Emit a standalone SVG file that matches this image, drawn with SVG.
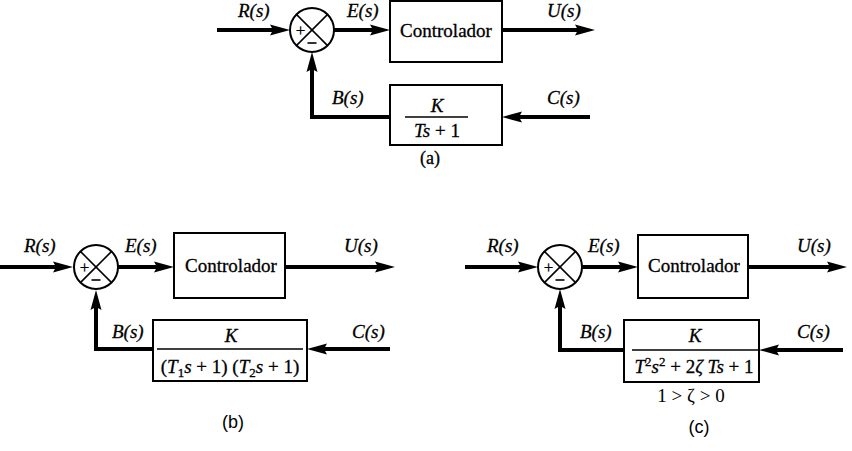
<svg xmlns="http://www.w3.org/2000/svg" width="852" height="451" viewBox="0 0 852 451">
  <defs>
    <style>
      .sig { fill: none; stroke: #000; stroke-width: 4; stroke-linejoin: miter; marker-end: url(#head); }
      .box { fill: #fff; stroke: #000; stroke-width: 2; }
      .sum { fill: #fff; stroke: #000; stroke-width: 2; }
      .xl { stroke: #000; stroke-width: 1.6; }
      .bar { stroke: #000; stroke-width: 1.4; }
      text { stroke: #000; stroke-width: 0.3; }
      .lbl { font-family: "Liberation Serif", "Times New Roman", serif; font-style: italic; font-size: 19px; fill: #000; }
      .rm { font-family: "Liberation Serif", "Times New Roman", serif; font-size: 19px; fill: #000; }
      .mid { text-anchor: middle; }
      .sgn { font-family: "Liberation Serif", "Times New Roman", serif; font-size: 17px; fill: #000; text-anchor: middle; }
      .cap { font-family: "Liberation Sans", Arial, sans-serif; font-size: 18px; fill: #000; text-anchor: middle; stroke-width: 0; }
      .it { font-style: italic; }
      .sub { font-size: 13px; }
    </style>
    <!-- slim filled arrowhead; the line stops 16px short of the tip -->
    <marker id="head" markerUnits="userSpaceOnUse" viewBox="0 -6 22 12" refX="4" refY="0" markerWidth="22" markerHeight="12" orient="auto">
      <path d="M0,-5.5 L20,0 L0,5.5 L3,0 Z" fill="#000"/>
    </marker>
    <!-- summing junction: circle with a cross, + on the left, - at the bottom -->
    <g id="sumjunction">
      <circle class="sum" cx="0" cy="0" r="22"/>
      <line class="xl" x1="-15.6" y1="-15.6" x2="15.6" y2="15.6"/>
      <line class="xl" x1="-15.6" y1="15.6" x2="15.6" y2="-15.6"/>
      <text class="sgn" x="-11.5" y="5.5">+</text>
      <line stroke="#000" stroke-width="1.6" x1="-4.5" y1="13" x2="4.5" y2="13"/>
    </g>
  </defs>

  <rect width="852" height="451" fill="#fff"/>

  <!-- connectors -->
  <g id="connectors">
    <!-- (a) -->
    <path class="sig" d="M217,30 H274"/>
    <path class="sig" d="M334,30 H374"/>
    <path class="sig" d="M502,30 H579"/>
    <path class="sig" d="M590,117 H518"/>
    <path class="sig" d="M390,117 H312 V68"/>
    <!-- (b) -->
    <path class="sig" d="M0,267 H57"/>
    <path class="sig" d="M118,267 H158"/>
    <path class="sig" d="M285,267 H379"/>
    <path class="sig" d="M390,349 H323"/>
    <path class="sig" d="M153,349 H96 V306"/>
    <!-- (c) -->
    <path class="sig" d="M465,267 H522"/>
    <path class="sig" d="M582,267 H622"/>
    <path class="sig" d="M748,267 H831"/>
    <path class="sig" d="M843,350 H775"/>
    <path class="sig" d="M624,350 H560 V305"/>
  </g>

  <!-- diagram (a) -->
  <g id="a-sum"><use href="#sumjunction" x="312" y="30"/></g>
  <g id="a-controller">
    <rect class="box" x="390" y="1" width="112" height="61"/>
    <text class="rm mid" x="446" y="37">Controlador</text>
  </g>
  <g id="a-feedback">
    <rect class="box" x="390" y="85" width="112" height="60"/>
    <text class="lbl mid" x="437" y="112">K</text>
    <line class="bar" x1="405" y1="117" x2="468" y2="117"/>
    <text class="rm mid" x="437" y="137"><tspan class="it">Ts</tspan> + 1</text>
  </g>
  <g id="a-labels">
    <text class="lbl" x="238" y="17">R(s)</text>
    <text class="lbl" x="347" y="17">E(s)</text>
    <text class="lbl" x="547" y="17">U(s)</text>
    <text class="lbl" x="332" y="104">B(s)</text>
    <text class="lbl" x="547" y="104">C(s)</text>
    <text class="rm mid" x="430" y="164" style="font-size:18px">(a)</text>
  </g>

  <!-- diagram (b) -->
  <g id="b-sum"><use href="#sumjunction" x="96" y="267"/></g>
  <g id="b-controller">
    <rect class="box" x="174" y="233" width="111" height="65"/>
    <text class="rm mid" x="231" y="272">Controlador</text>
  </g>
  <g id="b-feedback">
    <rect class="box" x="153" y="320" width="154" height="61"/>
    <text class="lbl mid" x="231" y="342">K</text>
    <line class="bar" x1="157" y1="349" x2="303" y2="349"/>
    <text class="rm mid" x="230" y="373">(<tspan class="it">T</tspan><tspan class="sub" dy="4">1</tspan><tspan class="it" dy="-4">s</tspan> + 1) (<tspan class="it">T</tspan><tspan class="sub" dy="4">2</tspan><tspan class="it" dy="-4">s</tspan> + 1)</text>
  </g>
  <g id="b-labels">
    <text class="lbl" x="24" y="252">R(s)</text>
    <text class="lbl" x="125" y="252">E(s)</text>
    <text class="lbl" x="344" y="252">U(s)</text>
    <text class="lbl" x="112" y="338">B(s)</text>
    <text class="lbl" x="352" y="338">C(s)</text>
    <text class="cap" x="233" y="428">(b)</text>
  </g>

  <!-- diagram (c) -->
  <g id="c-sum"><use href="#sumjunction" x="560" y="267"/></g>
  <g id="c-controller">
    <rect class="box" x="638" y="235" width="110" height="63"/>
    <text class="rm mid" x="694" y="272">Controlador</text>
  </g>
  <g id="c-feedback">
    <rect class="box" x="624" y="320" width="135" height="62"/>
    <text class="lbl mid" x="695" y="342">K</text>
    <line class="bar" x1="632" y1="350" x2="758" y2="350"/>
    <text class="rm mid" x="694" y="373"><tspan class="it">T</tspan><tspan class="sub" dy="-7">2</tspan><tspan class="it" dy="7">s</tspan><tspan class="sub" dy="-7">2</tspan><tspan dy="7"> + 2</tspan><tspan class="it">ζ Ts</tspan> + 1</text>
    <text class="rm mid" x="691" y="402" style="stroke-width:0">1 &gt; ζ &gt; 0</text>
  </g>
  <g id="c-labels">
    <text class="lbl" x="487" y="252">R(s)</text>
    <text class="lbl" x="588" y="252">E(s)</text>
    <text class="lbl" x="797" y="252">U(s)</text>
    <text class="lbl" x="580" y="338">B(s)</text>
    <text class="lbl" x="797" y="338">C(s)</text>
    <text class="cap" x="699" y="433">(c)</text>
  </g>
</svg>
